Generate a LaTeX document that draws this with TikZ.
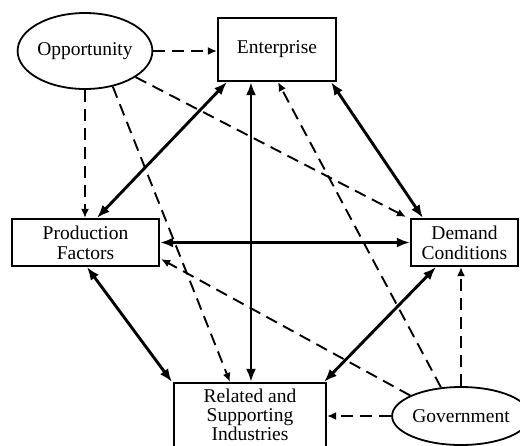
\documentclass[tikz,border=0pt]{standalone}
\usepackage{fontspec}
\setmainfont{Liberation Serif}
\usetikzlibrary{arrows.meta,shapes.geometric,calc}

\tikzset{
  box/.style={draw, line width=2.2pt, rectangle, inner sep=0pt, align=center,
    font=\fontsize{19.5}{20}\selectfont},
  oval/.style={draw, line width=1.8pt, ellipse, inner sep=0pt, align=center,
    font=\fontsize{19.5}{20}\selectfont},
  link/.style={line width=2.9pt, {Latex[length=13pt,width=10pt]}-{Latex[length=13pt,width=10pt]}},
  cause/.style={line width=1.9pt, dash pattern=on 12pt off 7pt,
    -{Latex[length=9pt,width=8pt]}},
}

\begin{document}
\begin{tikzpicture}[x=1pt,y=-1pt]
\clip (0,0) rectangle (520,445);
\fill[white] (0,0) rectangle (520,445);

% the six determinants
\node[oval, minimum width=116pt, minimum height=76pt] (opp) at (85,51) {Opportunity};
\node[box, minimum width=118pt, minimum height=63pt] (ent) at (277,49.5) {Enterprise};
\node[box, minimum width=147pt, minimum height=47pt] (pf) at (85.5,242.5) {Production\\Factors};
\node[box, minimum width=107pt, minimum height=47pt] (dc) at (464.5,242.5) {Demand\\Conditions};
\node[box, minimum width=152pt, minimum height=64pt, font=\fontsize{19.5}{19}\selectfont]
  (rsi) at (250,415) {Related and\\Supporting\\Industries};
\node[oval, minimum width=116pt, minimum height=58pt] (gov) at (461,416) {Government};

% two-way links between the four core factors
\draw[link] ($(ent.south west)+(10,0)$) -- ($(pf.north)+(11.5,0)$);
\draw[link] ($(ent.south)+(-26,0)$) -- ($(rsi.north)+(1,0)$);
\draw[link] ($(ent.south east)+(-6,0)$) -- ($(dc.north west)+(13,0)$);
\draw[link] (pf.east) -- (dc.west);
\draw[link] ($(pf.south)+(1.5,0)$) -- ($(rsi.north west)+(-1,0)$);
\draw[link] ($(dc.south west)+(26,0)$) -- ($(rsi.north east)+(-3,0)$);

% influence of opportunity
\draw[cause] (opp.east) -- (opp.east -| ent.west);
\draw[cause] (opp.south) -- (opp.south |- pf.north);
\draw[cause] (opp.-52) -- ($(rsi.north)+(-20,0)$);
\draw[cause] (opp) -- ($(dc.north west)+(-4,-1)$);

% influence of government
\draw[cause] (gov.125) -- ($(ent.south)+(1,0)$);
\draw[cause] (gov.158) -- ($(pf.south east)+(1,-8)$);
\draw[cause] (gov.north) -- (gov.north |- dc.south);
\draw[cause] (gov.west) -- (gov.west -| rsi.east);
\end{tikzpicture}
\end{document}
